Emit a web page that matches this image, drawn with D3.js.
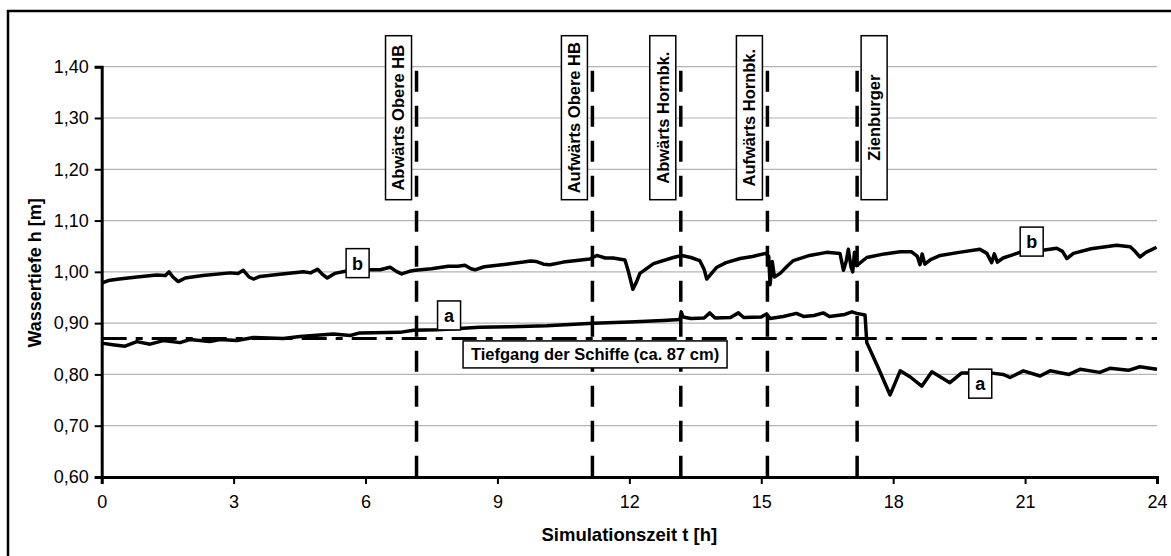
<!DOCTYPE html>
<html>
<head>
<meta charset="utf-8">
<script src="https://cdn.jsdelivr.net/npm/d3@7"></script>
<style>
  html, body { margin: 0; padding: 0; background: #fff; }
  svg { display: block; font-family: "Liberation Sans", Arial, sans-serif; }
</style>
</head>
<body>
<div id="chart"></div>
<script>
// Wassertiefe über Simulationszeit, Kurven a und b + Schiffsdurchgänge

const xTicks = [0, 3, 6, 9, 12, 15, 18, 21, 24]
const yTicks = [0.6, 0.7, 0.8, 0.9, 1.0, 1.1, 1.2, 1.3, 1.4]

const tiefgang = 0.87

const eventTimes = [7.16, 11.16, 13.17, 15.14, 17.18]
const eventNames = ["Abwärts Obere HB", "Aufwärts Obere HB", "Abwärts Hornbk.", "Aufwärts Hornbk.", "Zienburger"]

// Kurve b [t, h]
const lineB = [
  [0, 0.978], [0.15, 0.983], [0.4, 0.986], [0.8, 0.99], [1.25, 0.994], [1.45, 0.993],
  [1.53, 1.0], [1.62, 0.99], [1.74, 0.981], [1.9, 0.988], [2.3, 0.993], [2.92, 0.998],
  [3.1, 0.997], [3.22, 1.003], [3.35, 0.99], [3.45, 0.986], [3.6, 0.991], [4.0, 0.995],
  [4.59, 1.0], [4.75, 0.998], [4.91, 1.005], [5.02, 0.995], [5.13, 0.988], [5.3, 0.997],
  [5.6, 1.002], [6.1, 1.004], [6.33, 1.004], [6.56, 1.009], [6.7, 1.001], [6.82, 0.996],
  [7.0, 1.001], [7.13, 1.003], [7.5, 1.006], [7.88, 1.011], [8.1, 1.011], [8.26, 1.013],
  [8.4, 1.006], [8.49, 1.004], [8.7, 1.01], [9.2, 1.015], [9.59, 1.019], [9.75, 1.021],
  [9.89, 1.02], [10.05, 1.015], [10.2, 1.014], [10.5, 1.019], [11.1, 1.025], [11.26, 1.032],
  [11.45, 1.027], [11.63, 1.027], [11.9, 1.023], [11.98, 1.0], [12.08, 0.966], [12.16, 0.98],
  [12.24, 0.997], [12.55, 1.016], [13.0, 1.028], [13.19, 1.032], [13.4, 1.028], [13.6, 1.022],
  [13.7, 1.005], [13.76, 0.986], [13.85, 0.995], [13.99, 1.009], [14.2, 1.018], [14.52, 1.026],
  [14.8, 1.03], [15.1, 1.036], [15.17, 1.03], [15.2, 0.975], [15.25, 1.02], [15.3, 0.99],
  [15.43, 0.997], [15.6, 1.012], [15.73, 1.022], [16.1, 1.032], [16.49, 1.038], [16.79, 1.036],
  [16.87, 1.003], [16.93, 1.02], [16.98, 1.044], [17.04, 1.01], [17.08, 1.0], [17.12, 1.038],
  [17.17, 1.012], [17.4, 1.028], [17.8, 1.035], [18.16, 1.039], [18.42, 1.039], [18.55, 1.03],
  [18.61, 1.014], [18.66, 1.035], [18.72, 1.015], [18.85, 1.024], [19.07, 1.032], [19.5, 1.038],
  [19.97, 1.044], [20.13, 1.036], [20.24, 1.018], [20.3, 1.035], [20.37, 1.019], [20.5, 1.027],
  [20.88, 1.038], [21.4, 1.042], [21.72, 1.046], [21.85, 1.04], [21.95, 1.026], [22.1, 1.036],
  [22.5, 1.045], [23.08, 1.052], [23.39, 1.049], [23.5, 1.04], [23.61, 1.029], [23.75, 1.038],
  [23.99, 1.048]
]

// Kurve a [t, h]
const lineA = [
  [0, 0.861], [0.25, 0.858], [0.53, 0.855], [0.8, 0.864], [1.1, 0.859], [1.4, 0.866],
  [1.78, 0.862], [2.0, 0.868], [2.46, 0.864], [2.69, 0.868], [3.07, 0.866], [3.45, 0.872],
  [4.13, 0.87], [4.51, 0.874], [5.27, 0.879], [5.65, 0.876], [5.87, 0.881], [6.78, 0.882],
  [7.09, 0.886], [7.64, 0.887], [8.6, 0.892], [9.3, 0.893], [10.12, 0.895], [11.18, 0.9],
  [12.0, 0.902], [12.77, 0.905], [13.15, 0.907], [13.18, 0.922], [13.22, 0.912], [13.4, 0.909],
  [13.7, 0.91], [13.83, 0.92], [13.95, 0.91], [14.3, 0.911], [14.48, 0.92], [14.6, 0.911],
  [15.0, 0.912], [15.12, 0.918], [15.2, 0.909], [15.5, 0.913], [15.8, 0.919], [15.96, 0.913],
  [16.2, 0.915], [16.41, 0.92], [16.55, 0.913], [16.9, 0.917], [17.06, 0.922], [17.17, 0.919],
  [17.36, 0.916], [17.4, 0.862], [17.65, 0.815], [17.93, 0.76], [18.16, 0.807], [18.39, 0.795],
  [18.65, 0.777], [18.88, 0.805], [19.29, 0.784], [19.56, 0.803], [19.75, 0.803], [20.2, 0.803],
  [20.5, 0.8], [20.66, 0.794], [20.96, 0.807], [21.34, 0.797], [21.57, 0.807], [22.0, 0.8],
  [22.25, 0.81], [22.7, 0.804], [22.93, 0.812], [23.35, 0.808], [23.61, 0.815], [24.0, 0.81]
]

// Kurvenbeschriftungen [t, h, text]
const curveLabels = [[5.82, 1.017, "b"], [21.15, 1.059, "b"], [7.9, 0.915, "a"], [19.98, 0.782, "a"]]
const tiefgangLabel = [11.22, 0.839, "Tiefgang der Schiffe (ca. 87 cm)"]

const W = 1171, H = 556
const svg = d3.select("#chart").append("svg").attr("width", W).attr("height", H)

const x = d3.scaleLinear().domain([0, 24]).range([101.7, 1157])
const y = d3.scaleLinear().domain([0.6, 1.4]).range([477, 66.7])
const comma = (v) => d3.format(".2f")(v).replace(".", ",")

// Rahmen
svg.append("rect")
  .attr("x", 8).attr("y", 11).attr("width", 1300).attr("height", 700)
  .attr("fill", "none").attr("stroke", "#000").attr("stroke-width", 2.5)

// Gitter
svg.append("g")
  .selectAll("line").data(yTicks.slice(1)).join("line")
  .attr("x1", x(0)).attr("x2", x(24))
  .attr("y1", (d) => y(d)).attr("y2", (d) => y(d))
  .attr("stroke", "#b4b4b4").attr("stroke-width", 1.2)

// Achsen
const gx = svg.append("g")
  .attr("transform", `translate(0,${y(0.6)})`)
  .call(d3.axisBottom(x).tickValues(xTicks).tickSize(7).tickPadding(11).tickFormat(d3.format("d")))
gx.select(".domain").attr("stroke-width", 3)
gx.selectAll(".tick line").attr("stroke-width", 2)
gx.selectAll("text").attr("font-size", 18).attr("fill", "#000").attr("font-family", "Liberation Sans, Arial, sans-serif")

const gy = svg.append("g")
  .attr("transform", `translate(${x(0)},0)`)
  .call(d3.axisLeft(y).tickValues(yTicks).tickSize(7).tickPadding(6).tickFormat(comma))
gy.select(".domain").attr("stroke-width", 3)
gy.selectAll(".tick line").attr("stroke-width", 2)
gy.selectAll("text").attr("font-size", 18).attr("fill", "#000").attr("font-family", "Liberation Sans, Arial, sans-serif")

// Achsentitel
svg.append("text")
  .attr("x", (x(0) + x(24)) / 2).attr("y", 541)
  .attr("text-anchor", "middle").attr("font-size", 18.5).attr("font-weight", "bold")
  .text("Simulationszeit t [h]")

svg.append("text")
  .attr("transform", `translate(41,${(y(0.6) + y(1.4)) / 2 + 1}) rotate(-90)`)
  .attr("text-anchor", "middle").attr("font-size", 18).attr("font-weight", "bold")
  .text("Wassertiefe h [m]")

// Tiefgang (Strich-Punkt)
svg.append("line")
  .attr("x1", x(0)).attr("x2", x(24))
  .attr("y1", y(tiefgang)).attr("y2", y(tiefgang))
  .attr("stroke", "#000").attr("stroke-width", 3.2)
  .attr("stroke-dasharray", "25,9,7,9")

// Schiffsdurchgänge
svg.append("g")
  .selectAll("line").data(eventTimes).join("line")
  .attr("x1", (d) => x(d)).attr("x2", (d) => x(d))
  .attr("y1", y(1.4) + 4).attr("y2", y(0.6))
  .attr("stroke", "#000").attr("stroke-width", 3.5)
  .attr("stroke-dasharray", "21,14")

// Kurven
const line = d3.line().x((d) => x(d[0])).y((d) => y(d[1]))
svg.append("path").datum(lineB)
  .attr("d", line).attr("fill", "none").attr("stroke", "#000")
  .attr("stroke-width", 3.5).attr("stroke-linejoin", "round")
svg.append("path").datum(lineA)
  .attr("d", line).attr("fill", "none").attr("stroke", "#000")
  .attr("stroke-width", 3.5).attr("stroke-linejoin", "round")

// Beschriftungen der Durchgänge
const boxW = 26, boxH = 164
const ev = svg.append("g").selectAll("g")
  .data(eventTimes.map((t, i) => ({ t, name: eventNames[i], right: i === eventTimes.length - 1 })))
  .join("g")
  .attr("transform", (d) => {
    const cx = d.right ? x(d.t) + 4 + boxW / 2 : x(d.t) - 5 - boxW / 2
    return `translate(${cx},${y(1.4) - 31 + boxH / 2})`
  })
ev.append("rect")
  .attr("x", -boxW / 2).attr("y", -boxH / 2).attr("width", boxW).attr("height", boxH)
  .attr("fill", "#fff").attr("stroke", "#000").attr("stroke-width", 1.5)
ev.append("text")
  .attr("transform", "rotate(-90)")
  .attr("text-anchor", "middle").attr("dy", "0.36em")
  .attr("font-size", 16.5).attr("font-weight", "bold")
  .text((d) => d.name)

// Kurvenlabels a / b
const cl = svg.append("g").selectAll("g").data(curveLabels).join("g")
  .attr("transform", (d) => `translate(${x(d[0])},${y(d[1])})`)
cl.append("rect")
  .attr("x", -11.5).attr("y", -14.5).attr("width", 23).attr("height", 29)
  .attr("fill", "#fff").attr("stroke", "#000").attr("stroke-width", 1.5)
cl.append("text")
  .attr("text-anchor", "middle").attr("dy", "0.36em")
  .attr("font-size", 18).attr("font-weight", "bold")
  .text((d) => d[2])

// Tiefgang-Label
const tl = svg.append("g")
  .attr("transform", `translate(${x(tiefgangLabel[0])},${y(tiefgangLabel[1])})`)
tl.append("rect")
  .attr("x", -132).attr("y", -13.5).attr("width", 264).attr("height", 27)
  .attr("fill", "#fff").attr("stroke", "#000").attr("stroke-width", 1.5)
tl.append("text")
  .attr("text-anchor", "middle").attr("dy", "0.36em")
  .attr("font-size", 16.5).attr("font-weight", "bold")
  .text(tiefgangLabel[2])
</script>
</body>
</html>
